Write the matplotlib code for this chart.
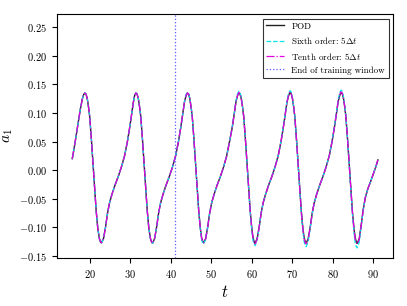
import matplotlib
matplotlib.use("Agg")
import matplotlib.pyplot as plt

plt.rcParams['font.family'] = 'serif'
plt.rcParams['font.serif'] = ['cmr10']
plt.rcParams['mathtext.fontset'] = 'cm'
plt.rcParams['axes.formatter.use_mathtext'] = True

# ---- data ----
t = [15.7, 16.2, 16.7, 17.2, 17.7, 18.2, 18.5, 18.8,
     19.1, 19.4, 19.7, 20.0, 20.4, 20.8, 21.2, 21.6, 22.0, 22.4, 22.7, 22.9,
     23.4, 23.9, 24.4, 24.9, 25.5, 26.2, 27.0, 27.8, 28.6, 29.3, 29.9, 30.4, 30.8, 31.1, 31.4,
     31.7, 32.0, 32.3, 32.6, 33.0, 33.4, 33.8, 34.2, 34.6, 35.0, 35.3, 35.5,
     36.0, 36.5, 37.0, 37.5, 38.1, 38.8, 39.6, 40.4, 41.2, 41.9, 42.5, 43.0, 43.4, 43.8, 44.1,
     44.4, 44.7, 45.0, 45.3, 45.7, 46.1, 46.5, 46.9, 47.3, 47.6, 47.9, 48.1,
     48.6, 49.1, 49.6, 50.1, 50.7, 51.4, 52.2, 53.0, 53.8, 54.5, 55.2, 55.7, 56.1, 56.5, 56.8,
     57.1, 57.4, 57.7, 58.0, 58.4, 58.8, 59.2, 59.6, 60.0, 60.3, 60.6, 60.8,
     61.3, 61.8, 62.3, 62.8, 63.4, 64.1, 64.9, 65.7, 66.5, 67.2, 67.8, 68.3, 68.7, 69.1, 69.4,
     69.7, 70.0, 70.3, 70.6, 71.0, 71.4, 71.8, 72.2, 72.6, 72.9, 73.2, 73.4,
     73.9, 74.4, 74.9, 75.4, 76.0, 76.7, 77.5, 78.3, 79.1, 79.8, 80.4, 80.9, 81.3, 81.7, 82.0,
     82.3, 82.6, 82.9, 83.2, 83.6, 84.0, 84.4, 84.8, 85.2, 85.5, 85.8, 86.0,
     86.5, 87.0, 87.5, 88.0, 88.6, 89.3, 90.0, 90.6, 91.1]

a1_pod = [0.020, 0.040, 0.062, 0.085, 0.107, 0.125, 0.132, 0.135,
          0.133, 0.125, 0.111, 0.094, 0.056, 0.013, -0.030, -0.071, -0.102, -0.120, -0.126, -0.127,
          -0.120, -0.100, -0.075, -0.057, -0.042, -0.027, -0.012, 0.005, 0.025, 0.050, 0.076, 0.100, 0.120, 0.131, 0.135,
          0.133, 0.125, 0.111, 0.094, 0.056, 0.013, -0.030, -0.071, -0.102, -0.120, -0.126, -0.128,
          -0.120, -0.100, -0.075, -0.057, -0.042, -0.027, -0.012, 0.005, 0.025, 0.050, 0.076, 0.100, 0.120, 0.131, 0.135,
          0.133, 0.125, 0.111, 0.094, 0.056, 0.013, -0.030, -0.071, -0.102, -0.118, -0.125, -0.127,
          -0.120, -0.100, -0.075, -0.057, -0.042, -0.027, -0.012, 0.005, 0.025, 0.050, 0.076, 0.100, 0.120, 0.131, 0.135,
          0.133, 0.125, 0.111, 0.094, 0.056, 0.013, -0.030, -0.071, -0.102, -0.118, -0.126, -0.128,
          -0.120, -0.100, -0.075, -0.057, -0.042, -0.027, -0.012, 0.005, 0.025, 0.050, 0.076, 0.100, 0.120, 0.131, 0.136,
          0.134, 0.126, 0.112, 0.094, 0.056, 0.013, -0.030, -0.071, -0.102, -0.118, -0.126, -0.128,
          -0.120, -0.100, -0.075, -0.057, -0.042, -0.027, -0.012, 0.005, 0.025, 0.050, 0.076, 0.100, 0.120, 0.131, 0.136,
          0.134, 0.126, 0.112, 0.094, 0.056, 0.013, -0.030, -0.071, -0.102, -0.118, -0.126, -0.128,
          -0.120, -0.095, -0.068, -0.048, -0.033, -0.020, -0.006, 0.006, 0.018]

a1_sixth = [0.020, 0.040, 0.062, 0.085, 0.107, 0.125, 0.132, 0.135,
            0.133, 0.125, 0.111, 0.094, 0.056, 0.013, -0.030, -0.071, -0.102, -0.120, -0.126, -0.127,
            -0.120, -0.100, -0.075, -0.057, -0.042, -0.027, -0.012, 0.005, 0.025, 0.050, 0.076, 0.100, 0.120, 0.131, 0.135,
            0.133, 0.125, 0.111, 0.094, 0.056, 0.013, -0.030, -0.071, -0.102, -0.120, -0.126, -0.128,
            -0.120, -0.100, -0.075, -0.057, -0.042, -0.027, -0.012, 0.005, 0.025, 0.050, 0.076, 0.100, 0.121, 0.133, 0.136,
            0.134, 0.126, 0.112, 0.094, 0.056, 0.013, -0.030, -0.072, -0.104, -0.121, -0.128, -0.129,
            -0.121, -0.100, -0.075, -0.057, -0.042, -0.027, -0.012, 0.005, 0.025, 0.050, 0.077, 0.101, 0.122, 0.134, 0.138,
            0.136, 0.127, 0.112, 0.094, 0.056, 0.013, -0.031, -0.073, -0.106, -0.123, -0.130, -0.132,
            -0.123, -0.101, -0.075, -0.057, -0.042, -0.027, -0.012, 0.005, 0.025, 0.051, 0.078, 0.102, 0.123, 0.135, 0.139,
            0.137, 0.128, 0.113, 0.095, 0.056, 0.013, -0.031, -0.074, -0.107, -0.125, -0.132, -0.134,
            -0.125, -0.102, -0.076, -0.057, -0.042, -0.027, -0.012, 0.005, 0.025, 0.051, 0.078, 0.102, 0.123, 0.136, 0.140,
            0.138, 0.129, 0.114, 0.095, 0.056, 0.013, -0.031, -0.075, -0.108, -0.127, -0.134, -0.136,
            -0.126, -0.098, -0.069, -0.048, -0.033, -0.020, -0.006, 0.006, 0.017]

a1_tenth = [0.020, 0.040, 0.062, 0.085, 0.107, 0.125, 0.132, 0.135,
            0.133, 0.125, 0.111, 0.094, 0.056, 0.013, -0.030, -0.071, -0.102, -0.120, -0.126, -0.127,
            -0.120, -0.100, -0.075, -0.057, -0.042, -0.027, -0.012, 0.005, 0.025, 0.050, 0.076, 0.100, 0.120, 0.131, 0.135,
            0.133, 0.125, 0.111, 0.094, 0.056, 0.013, -0.030, -0.071, -0.102, -0.120, -0.126, -0.128,
            -0.120, -0.100, -0.075, -0.057, -0.042, -0.027, -0.012, 0.005, 0.025, 0.050, 0.076, 0.100, 0.120, 0.131, 0.135,
            0.133, 0.125, 0.111, 0.094, 0.056, 0.013, -0.030, -0.071, -0.102, -0.118, -0.125, -0.127,
            -0.120, -0.100, -0.075, -0.057, -0.042, -0.027, -0.012, 0.005, 0.025, 0.050, 0.076, 0.100, 0.120, 0.131, 0.136,
            0.134, 0.125, 0.111, 0.094, 0.056, 0.013, -0.030, -0.071, -0.103, -0.119, -0.127, -0.129,
            -0.121, -0.100, -0.075, -0.057, -0.042, -0.027, -0.012, 0.005, 0.025, 0.050, 0.076, 0.100, 0.120, 0.132, 0.137,
            0.135, 0.126, 0.112, 0.094, 0.056, 0.013, -0.030, -0.072, -0.103, -0.120, -0.127, -0.129,
            -0.121, -0.100, -0.075, -0.057, -0.042, -0.027, -0.012, 0.005, 0.025, 0.050, 0.076, 0.100, 0.121, 0.132, 0.137,
            0.135, 0.126, 0.112, 0.094, 0.056, 0.013, -0.030, -0.072, -0.103, -0.120, -0.127, -0.129,
            -0.121, -0.096, -0.068, -0.048, -0.033, -0.020, -0.006, 0.006, 0.018]

t_train_end = 41.0

# ---- plot ----
fig = plt.figure(figsize=(4.07, 3.06), dpi=100)
ax = fig.add_axes([0.140, 0.157, 0.826, 0.797])

ax.plot(t, a1_pod, color='#222222', lw=1.0, label='POD')
ax.plot(t, a1_sixth, color='#00e5e5', ls='--', lw=0.9, label=r'Sixth order: 5$\Delta t$')
ax.plot(t, a1_tenth, color='#e000e0', ls='-.', lw=0.9, label=r'Tenth order: 5$\Delta t$')
ax.axvline(t_train_end, color='#5c5cff', ls=':', lw=0.9, label='End of training window')

ax.set_ylim(-0.1535, 0.273)
ax.set_yticks([-0.15, -0.10, -0.05, 0.00, 0.05, 0.10, 0.15, 0.20, 0.25])
ax.set_yticklabels(['$-0.15$', '$-0.10$', '$-0.05$', '$0.00$', '$0.05$', '$0.10$',
                    '$0.15$', '$0.20$', '$0.25$'])
ax.set_xticks([20, 30, 40, 50, 60, 70, 80, 90])
ax.tick_params(labelsize=7.5)
ax.set_xlabel('$t$', fontsize=12)
ax.set_ylabel('$a_1$', fontsize=11)
ax.yaxis.set_label_coords(-0.125, 0.5)
ax.xaxis.set_label_coords(0.5, -0.105)

leg = ax.legend(loc='upper right', fontsize=6.5, fancybox=False, edgecolor='k')
leg.get_frame().set_linewidth(0.8)

plt.savefig('out.png', dpi=100)
